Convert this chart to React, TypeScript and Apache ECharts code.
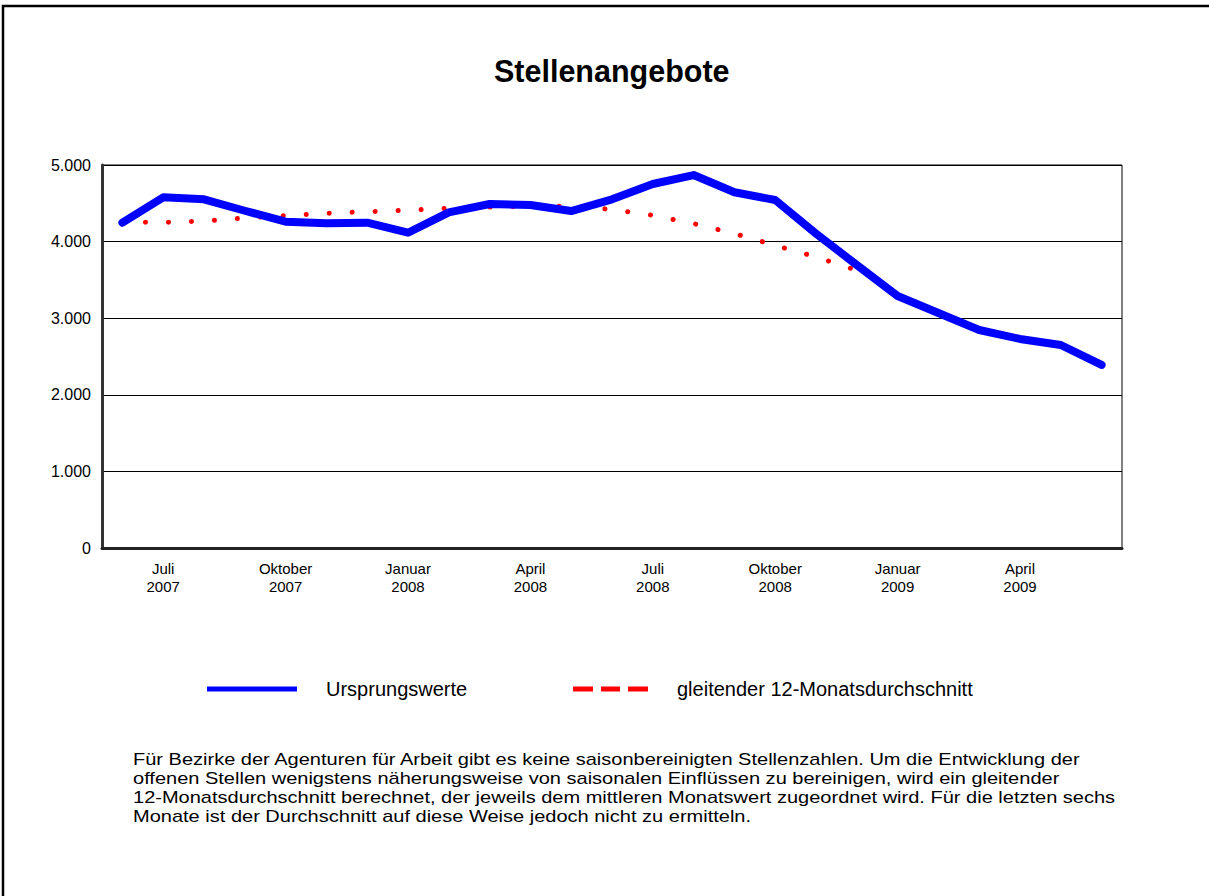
import React, { useEffect, useRef } from "react";
import * as echarts from "echarts";

const months = [
  "Juni\n2007", "Juli\n2007", "August\n2007", "September\n2007", "Oktober\n2007", "November\n2007", "Dezember\n2007",
  "Januar\n2008", "Februar\n2008", "März\n2008", "April\n2008", "Mai\n2008", "Juni\n2008", "Juli\n2008",
  "August\n2008", "September\n2008", "Oktober\n2008", "November\n2008", "Dezember\n2008",
  "Januar\n2009", "Februar\n2009", "März\n2009", "April\n2009", "Mai\n2009", "Juni\n2009",
];

const ursprungswerte = [
  4247, 4578, 4552, 4403, 4260, 4239, 4247, 4116, 4382, 4491, 4478, 4399, 4552,
  4752, 4869, 4644, 4543, 4105, 3695, 3290, 3068, 2846, 2729, 2650, 2390,
];

const gleitenderDurchschnitt: (number | null)[] = [
  4250, 4252, 4268, 4308, 4340, 4370, 4390, 4410, 4435, 4450, 4462, 4462, 4420,
  4343, 4235, 4105, 3950, 3800, 3625, null, null, null, null, null, null,
];

const yTicks = [0, 1000, 2000, 3000, 4000, 5000];

const titleText = "Stellenangebote";
const seriesNames = ["Ursprungswerte", "gleitender 12-Monatsdurchschnitt"];
const footnote =
  "Für Bezirke der Agenturen für Arbeit gibt es keine saisonbereinigten Stellenzahlen. Um die Entwicklung der\n" +
  "offenen Stellen wenigstens näherungsweise von saisonalen Einflüssen zu bereinigen, wird ein gleitender\n" +
  "12-Monatsdurchschnitt berechnet, der jeweils dem mittleren Monatswert zugeordnet wird. Für die letzten sechs\n" +
  "Monate ist der Durchschnitt auf diese Weise jedoch nicht zu ermitteln.";

const FONT = "'Liberation Sans', Arial, sans-serif";

export default function App() {
  const ref = useRef<HTMLDivElement>(null);

  useEffect(() => {
    if (!ref.current) return;
    const chart = echarts.init(ref.current, undefined, { renderer: "svg" });
    const formatThousands = (v: number) =>
      String(v).replace(/\B(?=(\d{3})+(?!\d))/g, ".");

    chart.setOption({
      animation: false,
      backgroundColor: "#fff",
      textStyle: { fontFamily: FONT },
      title: {
        text: titleText,
        left: 489,
        top: 50,
        textStyle: { fontFamily: FONT, fontSize: 30.5, fontWeight: "bold", color: "#000" },
      },
      grid: {
        left: 102,
        right: 87,
        top: 165,
        bottom: 348,
        show: true,
        borderColor: "#000",
        borderWidth: 1,
        backgroundColor: "transparent",
      },
      legend: [
        {
          data: [seriesNames[0]],
          left: 207,
          top: 679,
          padding: 0,
          icon: "rect",
          itemWidth: 90,
          itemHeight: 5,
          textStyle: { fontFamily: FONT, fontSize: 20, color: "#000", padding: [0, 0, 0, 24] },
        },
        {
          data: [seriesNames[1]],
          left: 573,
          top: 679,
          padding: 0,
          icon: "path://M0,0h20v5h-20z M28,0h19v5h-19z M55,0h20v5h-20z",
          itemWidth: 75,
          itemHeight: 5,
          textStyle: { fontFamily: FONT, fontSize: 20, color: "#000", padding: [0, 0, 0, 24] },
        },
      ],
      xAxis: {
        type: "category",
        data: months,
        boundaryGap: true,
        axisLine: { show: true, lineStyle: { color: "#222", width: 3 } },
        axisTick: { show: false },
        axisLabel: {
          interval: (i: number) => i % 3 === 1,
          margin: 11,
          fontFamily: FONT,
          fontSize: 15,
          lineHeight: 18,
          color: "#000",
        },
        splitLine: { show: false },
      },
      yAxis: {
        type: "value",
        min: yTicks[0],
        max: yTicks[yTicks.length - 1],
        interval: 1000,
        axisLine: { show: true, lineStyle: { color: "#333", width: 3 } },
        axisTick: { show: false },
        axisLabel: {
          margin: 11,
          fontFamily: FONT,
          fontSize: 16,
          color: "#000",
          formatter: (v: number) => formatThousands(v),
        },
        splitLine: { show: true, lineStyle: { color: "#000", width: 1 } },
      },
      series: [
        {
          name: seriesNames[1],
          type: "line",
          data: gleitenderDurchschnitt,
          showSymbol: false,
          z: 2,
          color: "#ff0000",
          itemStyle: { color: "#ff0000" },
          lineStyle: { color: "#ff0000", width: 5, type: [0.1, 22.9], cap: "round" },
        },
        {
          name: seriesNames[0],
          type: "line",
          data: ursprungswerte,
          showSymbol: false,
          z: 3,
          color: "#0000ff",
          itemStyle: { color: "#0000ff" },
          lineStyle: { color: "#0000ff", width: 8, cap: "round", join: "round" },
        },
      ],
      graphic: [
        {
          type: "rect",
          shape: { x: 3, y: 6, width: 1300, height: 1000 },
          style: { fill: "none", stroke: "#000", lineWidth: 2.5 },
          silent: true,
        },
        {
          type: "text",
          x: 133,
          y: 750,
          style: {
            text: footnote,
            fontFamily: FONT,
            fontSize: 16,
            lineHeight: 19,
            fill: "#000",
          },
          scaleX: 1.252,
        },
      ],
    });

    return () => chart.dispose();
  }, []);

  return (
    <div
      ref={ref}
      style={{ position: "absolute", left: 0, top: 0, width: 1209, height: 896 }}
    />
  );
}
